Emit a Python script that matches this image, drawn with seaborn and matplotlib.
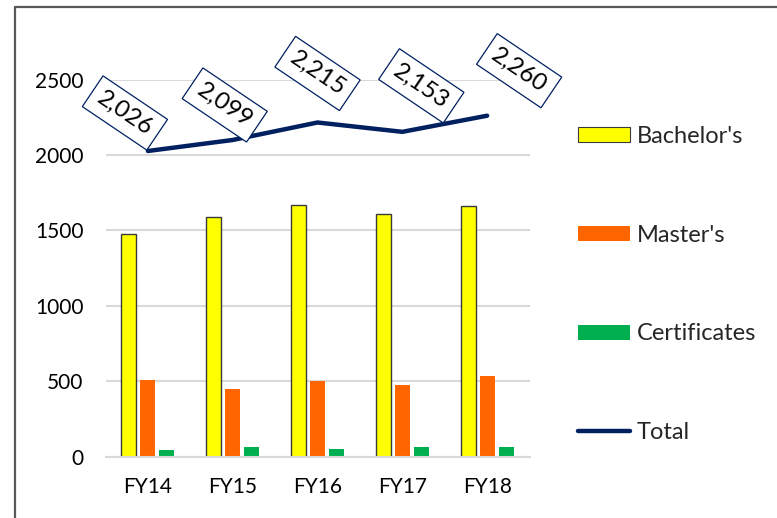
import numpy as np
import pandas as pd
import matplotlib
matplotlib.use("Agg")
import matplotlib.pyplot as plt
from matplotlib.patches import Patch
from matplotlib.lines import Line2D
import seaborn as sns

# Degrees awarded by fiscal year
years = ["FY14", "FY15", "FY16", "FY17", "FY18"]
bachelors = [1477, 1590, 1666, 1611, 1663]
masters = [509, 445, 498, 476, 531]
certificates = [40, 64, 51, 66, 66]
totals = [2026, 2099, 2215, 2153, 2260]
series_names = ["Bachelor's", "Master's", "Certificates"]
yticks = [0, 500, 1000, 1500, 2000, 2500]

colors = {"Bachelor's": "#FFFF00", "Master's": "#FF6600", "Certificates": "#00B050"}
navy = "#002060"

sns.set_theme(style="white")
plt.rcParams["font.family"] = ["Lato", "DejaVu Sans"]

df = pd.DataFrame({
    "year": years * 3,
    "type": [s for s in series_names for _ in years],
    "value": bachelors + masters + certificates,
})

fig = plt.figure(figsize=(7.77, 5.18), dpi=100)
ax = fig.add_axes([0.1358, 0.1187, 0.5457, 0.7278])

sns.barplot(data=df, x="year", y="value", hue="type", order=years,
            hue_order=series_names, palette=colors, width=0.672, gap=0.21,
            saturation=1, linewidth=0, ax=ax, legend=False)

# Outline the bachelor's bars
for patch in ax.containers[0]:
    patch.set_edgecolor("#3a3a3a")
    patch.set_linewidth(1.0)

positions = np.arange(len(years))
sns.lineplot(x=positions, y=totals, color=navy, linewidth=3.2, ax=ax,
             legend=False, solid_capstyle="round", zorder=4)

# Rotated boxed labels for the totals
label_offsets = [(-23, 38), (-8, 35), (0, 49), (19, 46), (32, 45)]
for xpos, val, (dx, dy) in zip(positions, totals, label_offsets):
    ax.annotate(f"{val:,}", xy=(xpos, val), xytext=(dx * 0.72, dy * 0.72),
                textcoords="offset points", ha="center", va="center",
                rotation=-34, rotation_mode="anchor", fontsize=17.5,
                color="black", zorder=5, annotation_clip=False,
                bbox=dict(boxstyle="square,pad=0.33", fc="white",
                          ec=navy, lw=0.9))

ax.set_xlim(-0.5, len(years) - 0.5)
ax.set_ylim(0, 2500)
ax.set_yticks(yticks)
ax.set_xlabel("")
ax.set_ylabel("")
ax.yaxis.grid(True, color="#d9d9d9", linewidth=1.5)
ax.set_axisbelow(True)
for side in ["top", "right", "left"]:
    ax.spines[side].set_visible(False)
ax.spines["bottom"].set_color("#d9d9d9")
ax.spines["bottom"].set_linewidth(1.5)
ax.tick_params(axis="both", length=0, labelsize=15, colors="black")
ax.tick_params(axis="y", pad=16)
ax.tick_params(axis="x", pad=14.5)

handles = [
    Patch(facecolor=colors["Bachelor's"], edgecolor="#3a3a3a", linewidth=0.8),
    Patch(facecolor=colors["Master's"], edgecolor="none"),
    Patch(facecolor=colors["Certificates"], edgecolor="none"),
    Line2D([0], [0], color=navy, linewidth=3.2, solid_capstyle="round"),
]
fig.legend(handles, series_names + ["Total"], loc="center left",
           bbox_to_anchor=(0.7435, 0.4506), frameon=False, fontsize=17,
           handlelength=2.2, handleheight=0.6, handletextpad=0.3,
           labelspacing=3.29, borderpad=0, borderaxespad=0)

# Chart frame
fig.add_artist(Line2D([15 / 777, 15 / 777], [0, 1 - 7 / 518],
                      transform=fig.transFigure, color="#595959", lw=1.6))
fig.add_artist(Line2D([15 / 777, 1], [1 - 7 / 518, 1 - 7 / 518],
                      transform=fig.transFigure, color="#595959", lw=1.6))

fig.savefig("out.png", dpi=100)
